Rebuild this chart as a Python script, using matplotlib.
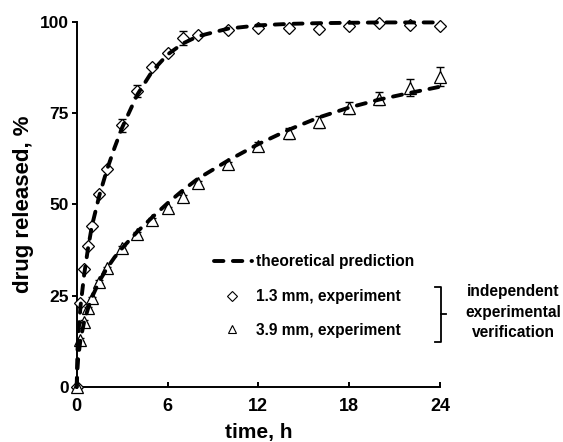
import matplotlib
matplotlib.use("Agg")
import matplotlib.pyplot as plt
from matplotlib.lines import Line2D

plt.rcParams['font.family'] = ['Liberation Sans', 'DejaVu Sans']
plt.rcParams['font.weight'] = 'bold'
plt.rcParams['lines.scale_dashes'] = False

# ---------------- data ----------------
t_exp = [0, 0.25, 0.5, 0.75, 1, 1.5, 2, 3, 4, 5, 6, 7, 8, 10, 12, 14, 16, 18, 20, 22, 24]
rel_13mm = [0, 22.9, 32.2, 38.7, 44.1, 52.7, 59.7, 71.7, 81.0, 87.7, 91.3, 95.6, 96.4,
            97.7, 98.4, 98.2, 97.9, 98.8, 99.7, 99.1, 98.8]
err_13mm = [0, 0.5, 0.5, 0.5, 0.5, 0.5, 0.5, 1.8, 1.7, 0.5, 0.5, 1.9, 0.5,
            0.5, 0.4, 0.4, 0.4, 0.4, 0.4, 0.4, 0.4]
rel_39mm = [0, 13.0, 17.9, 21.5, 24.3, 28.8, 32.5, 38.0, 41.8, 45.7, 48.9, 52.1, 55.9,
            61.0, 66.1, 69.4, 72.5, 76.3, 78.9, 81.9, 84.9]
err_39mm = [0, 0.4, 0.4, 0.4, 0.4, 0.4, 0.4, 0.5, 0.5, 0.5, 0.5, 0.5, 0.6,
            0.7, 0.9, 1.5, 1.6, 1.6, 1.8, 2.35, 2.6]

t_theo = [0, 0.05, 0.1, 0.25, 0.5, 0.75, 1, 1.5, 2, 2.5, 3, 4, 5, 6, 7, 8,
          10, 12, 14, 16, 18, 20, 22, 24]
theo_13mm = [0, 10, 14, 22, 31, 38, 44, 52.5, 59.5, 65.5, 71, 80, 86.5, 91, 94, 96,
             98.1, 99.0, 99.4, 99.6, 99.7, 99.8, 99.8, 99.8]
theo_39mm = [0, 5, 8, 13, 18, 21.5, 24.5, 29, 32.5, 35.5, 38, 42.5, 46.5, 50.3, 53.8, 57,
             62, 66.5, 70.4, 73.8, 76.5, 78.7, 80.5, 82.2]

x_ticks = [0, 6, 12, 18, 24]
y_ticks = [0, 25, 50, 75, 100]

legend_labels = ["theoretical prediction", "1.3 mm, experiment", "3.9 mm, experiment"]
bracket_text = "independent\nexperimental\nverification"
x_label = "time, h"
y_label = "drug released, %"

# ---------------- figure ----------------
W, H = 563, 442
fig = plt.figure(figsize=(W / 100, H / 100), dpi=100)
ax = fig.add_axes([76.7 / W, 1 - 387 / H, (440 - 76.7) / W, (387 - 21.7) / H])


def fx(px):
    return px / W


def fy(py):
    return 1 - py / H


lw_curve = 2.8
dash = (0, (6.6, 6.8))

# experiments: error bars
ax.errorbar(t_exp, rel_13mm, yerr=err_13mm, fmt='none', ecolor='black',
            elinewidth=1.0, capsize=2.8, capthick=1.0, zorder=2, clip_on=False)
ax.errorbar(t_exp, rel_39mm, yerr=err_39mm, fmt='none', ecolor='black',
            elinewidth=1.0, capsize=2.8, capthick=1.0, zorder=2, clip_on=False)
# markers
ax.plot(t_exp, rel_13mm, linestyle='none', marker='D', markersize=6.2,
        markerfacecolor='white', markeredgecolor='black', markeredgewidth=0.9,
        zorder=3, clip_on=False)
ax.plot(t_exp, rel_39mm, linestyle='none', marker='^', markersize=8,
        markerfacecolor='white', markeredgecolor='black', markeredgewidth=0.9,
        zorder=3, clip_on=False)
# theoretical curves
for yy in (theo_13mm, theo_39mm):
    ax.plot(t_theo, yy, color='black', linewidth=lw_curve, linestyle=dash,
            dash_capstyle='round', solid_capstyle='round', zorder=4, clip_on=False)

ax.set_xlim(0, 24)
ax.set_ylim(0, 100)
ax.set_xticks(x_ticks)
ax.set_yticks(y_ticks)
ax.set_xticklabels([str(v) for v in x_ticks], fontsize=13, fontweight='bold')
ax.set_yticklabels([str(v) for v in y_ticks], fontsize=12.5, fontweight='bold')
ax.tick_params(axis='x', direction='in', length=3.5, width=1.4, pad=8)
ax.tick_params(axis='y', direction='out', length=3.8, width=1.4, pad=2)
for s in ('top', 'right'):
    ax.spines[s].set_visible(False)
for s in ('left', 'bottom'):
    ax.spines[s].set_linewidth(1.4)
ax.set_xlabel(x_label, fontsize=15, fontweight='bold', labelpad=6)
ax.set_ylabel(y_label, fontsize=16, fontweight='bold', labelpad=4)

# ---------------- legend (manual) ----------------
fs_leg = 11.2
# dashed handle: dash, gap, dash, gap, dot
leg_line = Line2D([fx(213.7), fx(252.5)], [fy(260.7), fy(260.7)],
                  transform=fig.transFigure, color='black', linewidth=lw_curve,
                  linestyle=(0, (6.8, 6.8, 6.8, 6.6, 0.4, 20)),
                  dash_capstyle='round')
fig.add_artist(leg_line)
fig.text(fx(255.5), fy(266), legend_labels[0], fontsize=fs_leg, fontweight='bold',
         ha='left', va='baseline')
fig.add_artist(Line2D([fx(231.7)], [fy(295.5)], transform=fig.transFigure,
                      marker='D', markersize=5, linestyle='none',
                      markerfacecolor='white', markeredgecolor='black',
                      markeredgewidth=0.8))
fig.text(fx(256), fy(300.7), legend_labels[1], fontsize=fs_leg, fontweight='bold',
         ha='left', va='baseline')
fig.add_artist(Line2D([fx(231.7)], [fy(329)], transform=fig.transFigure,
                      marker='^', markersize=6, linestyle='none',
                      markerfacecolor='white', markeredgecolor='black',
                      markeredgewidth=0.8))
fig.text(fx(256), fy(334.7), legend_labels[2], fontsize=fs_leg, fontweight='bold',
         ha='left', va='baseline')

# bracket
bx = 440.5
fig.add_artist(Line2D([fx(435), fx(bx), fx(bx), fx(435)],
                      [fy(287), fy(287), fy(342), fy(342)],
                      transform=fig.transFigure, color='black', linewidth=1.3))
fig.add_artist(Line2D([fx(bx), fx(446)], [fy(313.5), fy(313.5)],
                      transform=fig.transFigure, color='black', linewidth=1.3))
fig.text(fx(513), fy(312), bracket_text, fontsize=fs_leg, fontweight='bold',
         ha='center', va='center', linespacing=1.45)

fig.savefig("out.png", dpi=100)
